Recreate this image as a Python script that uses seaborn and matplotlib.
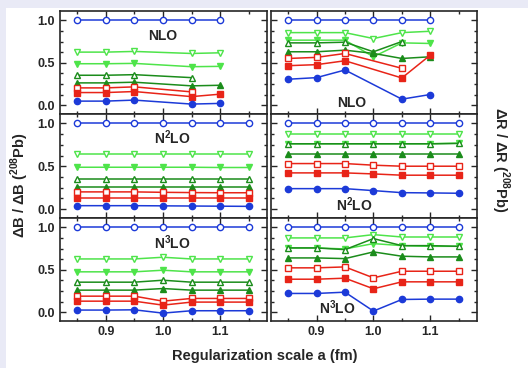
import numpy as np
import pandas as pd
import seaborn as sns
import matplotlib.pyplot as plt
from matplotlib.patches import Rectangle
from matplotlib.ticker import MultipleLocator

nan = np.nan
scale_a = [0.85, 0.90, 0.95, 1.00, 1.05, 1.10, 1.15]

# order: open circle, open down-tri, filled down-tri, open up-tri,
#        filled up-tri, open square, filled square, filled circle
series_names = ["o_open", "v_open", "v_fill", "^_open", "^_fill", "s_open", "s_fill", "o_fill"]

# Delta B / Delta B(208Pb)
nlo_B = [
    [1.0, 1.0, 1.0, 1.0, 1.0, 1.0, nan],
    [0.625, 0.625, 0.633, nan, 0.609, 0.617, nan],
    [0.488, 0.488, 0.492, nan, 0.453, 0.457, nan],
    [0.352, 0.352, 0.359, nan, 0.324, nan, nan],
    [0.262, 0.262, 0.270, nan, 0.227, 0.234, nan],
    [0.203, 0.203, 0.215, nan, 0.156, nan, nan],
    [0.148, 0.148, 0.160, nan, 0.100, 0.129, nan],
    [0.047, 0.047, 0.059, nan, 0.012, 0.020, nan],
]
n2lo_B = [
    [1.0, 1.0, 1.0, 1.0, 1.0, 1.0, 1.0],
    [0.645, 0.645, 0.645, 0.645, 0.645, 0.645, 0.645],
    [0.488, 0.488, 0.488, 0.488, 0.488, 0.485, 0.485],
    [0.355, 0.355, 0.355, 0.355, 0.355, 0.355, 0.355],
    [0.258, 0.258, 0.258, 0.258, 0.258, 0.258, 0.258],
    [0.200, 0.200, 0.200, 0.195, 0.192, 0.190, 0.190],
    [0.129, 0.129, 0.129, 0.129, 0.129, 0.129, 0.129],
    [0.039, 0.039, 0.039, 0.037, 0.035, 0.033, 0.031],
]
n3lo_B = [
    [1.0, 1.0, 1.0, 1.0, 1.0, 1.0, 1.0],
    [0.627, 0.627, 0.627, 0.647, 0.627, 0.627, 0.627],
    [0.475, 0.475, 0.475, 0.494, 0.475, 0.475, 0.475],
    [0.353, 0.353, 0.353, 0.376, 0.353, 0.353, 0.353],
    [0.259, 0.259, 0.259, 0.278, 0.259, 0.259, 0.259],
    [0.188, 0.188, 0.188, 0.129, 0.161, 0.161, 0.161],
    [0.129, 0.129, 0.129, 0.082, 0.118, 0.118, 0.118],
    [0.024, 0.024, 0.027, -0.012, 0.016, 0.016, 0.016],
]

# Delta R / Delta R(208Pb)
nlo_R = [
    [1.0, 1.0, 1.0, 1.0, 1.0, 1.0, nan],
    [0.855, 0.855, 0.855, 0.785, 0.855, 0.871, nan],
    [0.766, 0.766, 0.766, 0.570, 0.734, 0.727, nan],
    [0.734, 0.734, 0.742, 0.629, 0.750, nan, nan],
    [0.629, 0.629, 0.648, 0.610, 0.550, 0.570, nan],
    [0.550, 0.563, 0.609, nan, 0.434, nan, nan],
    [0.465, 0.477, 0.523, nan, 0.320, 0.590, nan],
    [0.305, 0.324, 0.414, nan, 0.070, 0.125, nan],
]
n2lo_R = [
    [1.0, 1.0, 1.0, 1.0, 1.0, 1.0, 1.0],
    [0.879, 0.879, 0.879, 0.879, 0.879, 0.879, 0.879],
    [0.762, 0.762, 0.762, 0.762, 0.762, 0.762, 0.770],
    [0.762, 0.762, 0.762, 0.762, 0.762, 0.762, 0.766],
    [0.637, 0.637, 0.637, 0.637, 0.637, 0.637, 0.637],
    [0.531, 0.531, 0.531, 0.512, 0.500, 0.500, 0.500],
    [0.422, 0.422, 0.422, 0.410, 0.395, 0.395, 0.395],
    [0.238, 0.238, 0.238, 0.215, 0.191, 0.188, 0.184],
]
n3lo_R = [
    [1.0, 1.0, 1.0, 1.0, 1.0, 1.0, 1.0],
    [0.875, 0.875, 0.875, 0.914, 0.886, 0.886, 0.886],
    [0.757, 0.757, 0.745, 0.808, 0.784, 0.776, 0.776],
    [0.757, 0.757, 0.737, 0.867, 0.784, 0.784, 0.776],
    [0.639, 0.639, 0.631, 0.710, 0.659, 0.651, 0.651],
    [0.522, 0.522, 0.533, 0.404, 0.482, 0.482, 0.482],
    [0.388, 0.388, 0.400, 0.275, 0.357, 0.357, 0.357],
    [0.220, 0.220, 0.235, 0.012, 0.149, 0.153, 0.153],
]

panel_text = ["NLO", "N$^{\\mathbf{2}}$LO", "N$^{\\mathbf{3}}$LO"]

blue = "#1c3ad8"
red = "#e82418"
lgreen = "#4ee44a"
dgreen = "#1b8c1b"
styles = [
    ("o", blue, False), ("v", lgreen, False), ("v", lgreen, True), ("^", dgreen, False),
    ("^", dgreen, True), ("s", red, False), ("s", red, True), ("o", blue, True),
]


def draw_panel(ax, rows):
    for name, vals, (mk, col, filled) in zip(series_names, rows, styles):
        df = pd.DataFrame({"a": scale_a, "v": vals}).dropna()
        ms = 5 if mk == "s" else 4.5
        sns.lineplot(data=df, x="a", y="v", ax=ax, color=col, lw=1.1,
                     marker=mk, markersize=ms, markeredgecolor=col,
                     markerfacecolor=col if filled else "white",
                     markeredgewidth=1.0, estimator=None, sort=False)


sns.set_style("ticks")
plt.rcParams["font.family"] = ["Liberation Sans", "DejaVu Sans"]
plt.rcParams["font.weight"] = "bold"
plt.rcParams["mathtext.fontset"] = "custom"
plt.rcParams["mathtext.bf"] = "Liberation Sans:bold"
plt.rcParams["mathtext.rm"] = "Liberation Sans:bold"

fig = plt.figure(figsize=(5.28, 3.68), dpi=100)
fig.patch.set_facecolor("#e9eaf6")
fig.patches.append(Rectangle((6 / 528, 0), 1, 1 - 8 / 368, transform=fig.transFigure,
                             facecolor="white", edgecolor="none", zorder=-1))

col_x = [60 / 528, 271 / 528]
col_w = [207 / 528, 206 / 528]
row_top = [11, 114, 218, 321]

data_B = [nlo_B, n2lo_B, n3lo_B]
data_R = [nlo_R, n2lo_R, n3lo_R]
text_pos_left = [(1.0, 0.81), (1.017, 0.83), (1.017, 0.82)]
text_pos_right = [(0.962, 0.03), (0.967, 0.05), (0.936, 0.05)]

for r in range(3):
    bottom = 1 - row_top[r + 1] / 368
    height = (row_top[r + 1] - row_top[r]) / 368
    for c in range(2):
        ax = fig.add_axes([col_x[c], bottom, col_w[c], height])
        draw_panel(ax, data_B[r] if c == 0 else data_R[r])
        ax.set_xlim(0.82, 1.182)
        ax.set_ylim(-0.105, 1.11)
        ax.xaxis.set_major_locator(MultipleLocator(0.1))
        ax.xaxis.set_minor_locator(MultipleLocator(0.05))
        ax.yaxis.set_major_locator(MultipleLocator(0.5))
        ax.yaxis.set_minor_locator(MultipleLocator(0.125))
        ax.tick_params(which="both", direction="in", top=True, right=True,
                       labelsize=9, width=1.0)
        ax.tick_params(which="major", length=4)
        ax.tick_params(which="minor", length=2.5)
        ax.set_xlabel("")
        ax.set_ylabel("")
        for sp in ax.spines.values():
            sp.set_linewidth(1.2)
        if c == 1:
            ax.tick_params(labelleft=False)
        else:
            ax.set_yticks([0.0, 0.5, 1.0])
            ax.set_yticklabels(["0.0", "0.5", "1.0"], fontweight="bold")
        if r < 2:
            ax.tick_params(labelbottom=False)
        else:
            ax.set_xticks([0.9, 1.0, 1.1])
            ax.set_xticklabels(["0.9", "1.0", "1.1"], fontweight="bold")
        tx, ty = text_pos_left[r] if c == 0 else text_pos_right[r]
        ax.text(tx, ty, panel_text[r], ha="center", va="center",
                fontsize=10, fontweight="bold")

fig.text(265 / 528, 1 - 356 / 368, "Regularization scale a (fm)", ha="center",
         va="center", fontsize=10.5, fontweight="bold")
fig.text(20 / 528, 1 - 185 / 368, "ΔB / ΔB ($^{\\mathbf{208}}$Pb)", rotation=90,
         ha="center", va="center", fontsize=10.5, fontweight="bold")
fig.text(500 / 528, 1 - 160 / 368, "ΔR / ΔR ($^{\\mathbf{208}}$Pb)", rotation=270,
         ha="center", va="center", fontsize=10.5, fontweight="bold")

fig.savefig("out.png", dpi=100, facecolor=fig.get_facecolor())
